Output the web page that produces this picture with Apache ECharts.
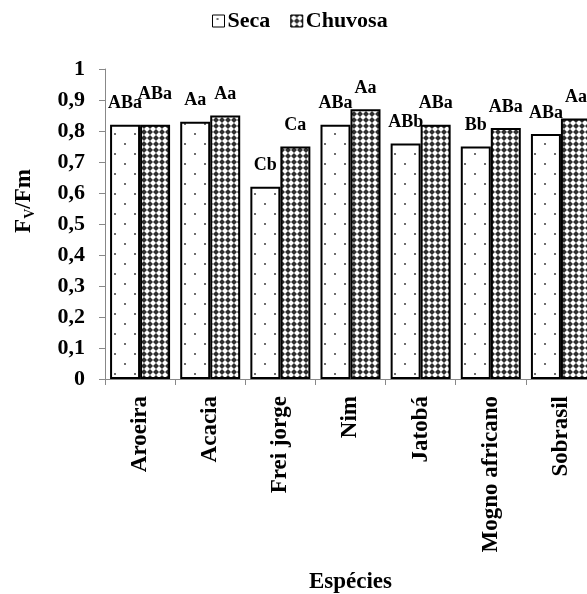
<!DOCTYPE html>
<html>
<head>
<meta charset="utf-8">
<script src="https://cdn.jsdelivr.net/npm/echarts@6/dist/echarts.min.js"></script>
<style>
  html, body { margin: 0; padding: 0; background: #fff; }
  #chart { width: 587px; height: 594px; }
</style>
</head>
<body>
<div id="chart"></div>
<script>
// Fv/Fm per species in the dry (Seca) and rainy (Chuvosa) seasons
const species = ['Aroeira', 'Acacia', 'Frei jorge', 'Nim', 'Jatobá', 'Mogno africano', 'Sobrasil'];
const seca = [0.82, 0.83, 0.62, 0.82, 0.76, 0.75, 0.79];
const chuvosa = [0.82, 0.85, 0.75, 0.87, 0.82, 0.81, 0.84];
// Mean-comparison letters drawn above each bar
const secaLetters = ['ABa', 'Aa', 'Cb', 'ABa', 'ABb', 'Bb', 'ABa'];
const chuvosaLetters = ['ABa', 'Aa', 'Ca', 'Aa', 'ABa', 'ABa', 'Aa'];
const yTickLabels = ['0', '0,1', '0,2', '0,3', '0,4', '0,5', '0,6', '0,7', '0,8', '0,9', '1'];

const FONT = '"Liberation Serif", "DejaVu Serif", serif';

// Sparse dotted fill for the dry season
function dotTile() {
  const c = document.createElement('canvas');
  c.width = 20; c.height = 20;
  const g = c.getContext('2d');
  g.fillStyle = '#ffffff';
  g.fillRect(0, 0, 20, 20);
  g.fillStyle = '#6e6e6e';
  g.fillRect(4, 3, 2, 2);
  g.fillRect(14, 13, 2, 2);
  return c;
}

// Dense lattice fill with white crosses for the rainy season
function latticeTile() {
  const n = 6;
  const c = document.createElement('canvas');
  c.width = n; c.height = n;
  const g = c.getContext('2d');
  for (let y = 0; y < n; y++) {
    for (let x = 0; x < n; x++) {
      const d = Math.abs(x + 0.5 - n / 2) + Math.abs(y + 0.5 - n / 2);
      g.fillStyle = d <= 2 ? '#ffffff' : (d <= 3 ? '#9a9a9a' : '#2e2e2e');
      g.fillRect(x, y, 1, 1);
    }
  }
  return c;
}

const chart = echarts.init(document.getElementById('chart'), null, { renderer: 'canvas' });

function barSeries(name, values, letters, tile) {
  return {
    name: name,
    type: 'bar',
    data: values,
    barWidth: 30,
    barGap: '0%',
    itemStyle: {
      color: { image: tile, repeat: 'repeat' },
      borderColor: '#000',
      borderWidth: 2
    },
    label: {
      show: true,
      position: 'top',
      distance: 12,
      formatter: p => letters[p.dataIndex],
      fontFamily: FONT,
      fontWeight: 'bold',
      fontSize: 18,
      color: '#000'
    },
    // when both seasons have the same height, lift the rainy-season letters so they don't collide
    labelLayout: p => (p.seriesIndex === 1 && seca[p.dataIndex] === chuvosa[p.dataIndex]) ? { dy: -9 } : {}
  };
}

chart.setOption({
  animation: false,
  backgroundColor: '#fff',
  legend: {
    data: ['Seca', 'Chuvosa'],
    left: 207,
    top: 5,
    icon: 'rect',
    itemWidth: 12,
    itemHeight: 12,
    itemGap: 20,
    itemStyle: { borderWidth: 1 },
    textStyle: { fontFamily: FONT, fontWeight: 'bold', fontSize: 22, color: '#000', padding: [0, 0, 0, -2] }
  },
  grid: { left: 105, top: 69, width: 491, height: 310, outerBoundsMode: 'none', containLabel: false },
  xAxis: {
    type: 'category',
    data: species,
    name: 'Espécies',
    nameLocation: 'middle',
    nameGap: 192,
    nameTextStyle: { fontFamily: FONT, fontWeight: 'bold', fontSize: 23, color: '#000' },
    axisLine: { lineStyle: { color: '#888', width: 1 } },
    axisTick: { show: true, length: 6, lineStyle: { color: '#888' } },
    axisLabel: {
      rotate: 90,
      margin: 17,
      interval: 0,
      fontFamily: FONT,
      fontWeight: 'bold',
      fontSize: 23,
      color: '#000'
    }
  },
  yAxis: {
    type: 'value',
    min: 0,
    max: 1,
    interval: 0.1,
    splitLine: { show: false },
    axisLine: { show: true, lineStyle: { color: '#888', width: 1 } },
    axisTick: { show: true, length: 6, lineStyle: { color: '#888' } },
    axisLabel: {
      margin: 20,
      formatter: v => yTickLabels[Math.round(v * 10)],
      fontFamily: FONT,
      fontWeight: 'bold',
      fontSize: 22,
      color: '#000'
    }
  },
  graphic: [{
    type: 'text',
    x: 24,
    y: 201,
    rotation: Math.PI / 2,
    style: {
      text: '{a|F}{b|V}{a|/Fm}',
      align: 'center',
      verticalAlign: 'middle',
      fill: '#000',
      rich: {
        a: { fontFamily: FONT, fontWeight: 'bold', fontSize: 23, lineHeight: 30, verticalAlign: 'middle' },
        b: { fontFamily: FONT, fontWeight: 'bold', fontSize: 14, lineHeight: 14, padding: [12, 0, 0, 0], verticalAlign: 'middle' }
      }
    }
  }],
  series: [
    barSeries('Seca', seca, secaLetters, dotTile()),
    barSeries('Chuvosa', chuvosa, chuvosaLetters, latticeTile())
  ]
});
</script>
</body>
</html>
